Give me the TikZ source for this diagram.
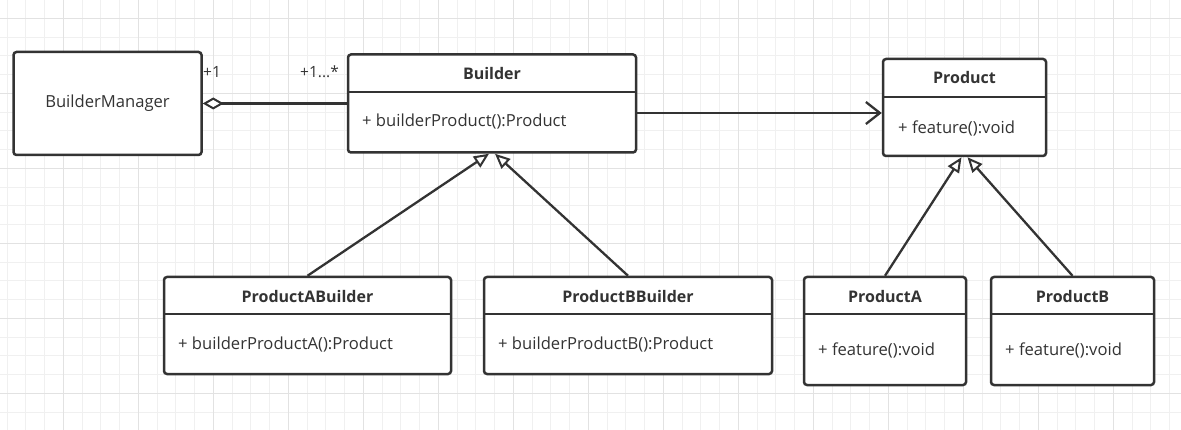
\documentclass[tikz,border=0pt]{standalone}
\usepackage{fontspec}
\setmainfont{Open Sans}
\usetikzlibrary{arrows.meta}
\definecolor{ink}{HTML}{333333}
\definecolor{gridminor}{HTML}{F0F0F0}
\definecolor{gridmajor}{HTML}{E2E2E2}
\tikzset{
  classbox/.style={draw=ink, line width=2.5pt, rounded corners=3pt, fill=white, inner sep=0pt},
  divider/.style={draw=ink, line width=1.8pt},
  title/.style={text=ink, font=\fontsize{16}{18}\selectfont\bfseries, inner sep=0pt},
  member/.style={text=ink, font=\fontsize{16.6}{19}\selectfont, anchor=west, inner sep=0pt},
  mult/.style={text=ink, font=\fontsize{15.5}{17}\selectfont, inner sep=0pt},
  link/.style={draw=ink, line width=2.3pt},
  inherit/.style={link, -{Triangle[fill=white, length=15pt, width=13pt, line width=2pt]}},
  assoc/.style={link, -{Straight Barb[length=14pt, width=22pt, line width=2.3pt]}},
  aggr/.style={link, {Diamond[fill=white, length=21pt, width=12pt, line width=2pt]}-}
}
\begin{document}
\begin{tikzpicture}[x=1pt, y=-1pt]
  \useasboundingbox (0,0) rectangle (1181,430);
  \fill[white] (0,0) rectangle (1181,430);
  % background grid
  \foreach \i in {0,...,62} {
    \draw[gridminor, line width=1pt] ({7.05+18.75*\i},0) -- ({7.05+18.75*\i},430);
  }
  \foreach \i in {0,...,23} {
    \draw[gridminor, line width=1pt] (0,{-0.45+18.75*\i}) -- (1181,{-0.45+18.75*\i});
  }
  \foreach \i in {0,...,15} {
    \draw[gridmajor, line width=1pt] ({63.3+75*\i},0) -- ({63.3+75*\i},430);
  }
  \foreach \i in {0,...,5} {
    \draw[gridmajor, line width=1pt] (0,{18.3+75*\i}) -- (1181,{18.3+75*\i});
  }

  % BuilderManager
  \node[classbox, minimum width=188, minimum height=103] (bm) at (107.5,103.5) {};
  \node[text=ink, font=\fontsize{16.6}{19}\selectfont, inner sep=0pt] (bmname) at (bm.center) {BuilderManager};

  % Builder
  \node[classbox, minimum width=288, minimum height=98] (builder) at (492,103.5) {};
  \draw[divider] (348,92) -- (636,92);
  \node[title] (buildert) at (492,74) {Builder};
  \node[member] (builderm) at (362,122) {+ builderProduct():Product};

  % Product
  \node[classbox, minimum width=163, minimum height=97] (product) at (964.5,107.5) {};
  \draw[divider] (883,97) -- (1046,97);
  \node[title] (productt) at (964.5,78) {Product};
  \node[member] (productm) at (898,128) {+ feature():void};

  % ProductABuilder
  \node[classbox, minimum width=287, minimum height=97] (pab) at (307.5,325.5) {};
  \draw[divider] (164,314) -- (451,314);
  \node[title] (pabt) at (307.5,297) {ProductABuilder};
  \node[member] (pabm) at (178,345) {+ builderProductA():Product};

  % ProductBBuilder
  \node[classbox, minimum width=288, minimum height=97] (pbb) at (628,325.5) {};
  \draw[divider] (484,314) -- (772,314);
  \node[title] (pbbt) at (628,297) {ProductBBuilder};
  \node[member] (pbbm) at (498,345) {+ builderProductB():Product};

  % ProductA
  \node[classbox, minimum width=162, minimum height=108] (pa) at (885,331) {};
  \draw[divider] (804,314) -- (966,314);
  \node[title] (pat) at (885,297) {ProductA};
  \node[member] (pam) at (818,350) {+ feature():void};

  % ProductB
  \node[classbox, minimum width=163, minimum height=108] (pb) at (1072.5,331) {};
  \draw[divider] (991,314) -- (1154,314);
  \node[title] (pbt) at (1072.5,297) {ProductB};
  \node[member] (pbm) at (1005,350) {+ feature():void};

  % relations
  \draw[aggr] (bm.east) -- (builder.west);
  \node[mult, anchor=west] (m1) at (203,72) {+1};
  \node[mult, anchor=east] (m2) at (339,72) {+1...*};
  \draw[assoc] ([yshift=-9.5pt]builder.east) -- ([yshift=-5.5pt]product.west);
  \draw[inherit] (pab.north) -- ([xshift=-3pt]builder.south);
  \draw[inherit] (pbb.north) -- ([xshift=3pt]builder.south);
  \draw[inherit] (pa.north) -- ([xshift=-3pt]product.south);
  \draw[inherit] (pb.north) -- ([xshift=3pt]product.south);
\end{tikzpicture}
\end{document}
